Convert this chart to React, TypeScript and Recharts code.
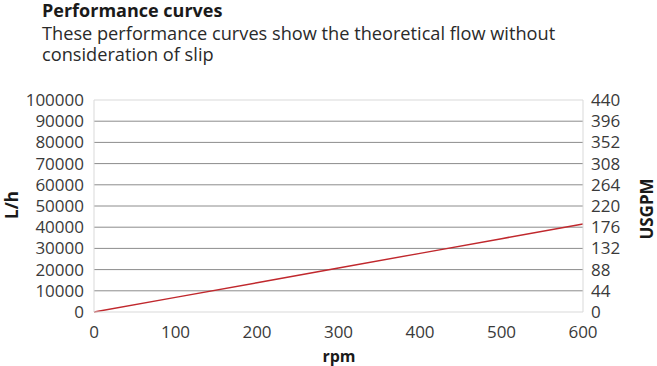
import React from "react"
import { LineChart, Line, XAxis, YAxis, ReferenceLine } from "recharts"

// rpm vs. theoretical flow (L/h)
const rpm = [0, 100, 200, 300, 400, 500, 600]
const flowLh = [0, 6900, 13800, 20750, 27650, 34600, 41500]

const rpmTicks = [0, 100, 200, 300, 400, 500, 600]
const lhTicks = [0, 10000, 20000, 30000, 40000, 50000, 60000, 70000, 80000, 90000, 100000]
const gpmTicks = [0, 44, 88, 132, 176, 220, 264, 308, 352, 396, 440]

const subtitleLines = [
  "These performance curves show the theoretical flow without",
  "consideration of slip",
]

const data = rpm.map((r, i) => ({ rpm: r, lph: flowLh[i] }))

const font = "'Open Sans', sans-serif"
const tickStyle = { fontFamily: font, fontSize: 17, fill: "#3a3a3a" }
const gridColor = "#8c8c8c"
const borderColor = "#d9d9d9"

export default function App() {
  return (
    <div style={{ position: "absolute", left: 0, top: 0, width: 657, height: 366, background: "#fff", fontFamily: font, color: "#1a1a1a" }}>
      <div style={{ position: "absolute", left: 42, top: 0, fontSize: 18, lineHeight: "21px", fontWeight: 700 }}>
        Performance curves
      </div>
      {subtitleLines.map((t, i) => (
        <div
          key={t}
          style={{ position: "absolute", left: 42, top: 24 + i * 21, fontSize: 18.2, lineHeight: "19px", color: "#2a2a2a", whiteSpace: "nowrap" }}
        >
          {t}
        </div>
      ))}

      <LineChart width={657} height={366} data={data} margin={{ top: 100, right: 0, bottom: 0, left: 0 }}>
        <XAxis
          dataKey="rpm"
          type="number"
          domain={[0, 600]}
          ticks={rpmTicks}
          tickSize={0}
          tickMargin={14}
          height={54}
          tick={tickStyle}
          axisLine={{ stroke: borderColor }}
        />
        <YAxis
          yAxisId="left"
          type="number"
          domain={[0, 100000]}
          ticks={lhTicks}
          tickSize={0}
          tickMargin={10}
          width={94}
          tick={tickStyle}
          axisLine={{ stroke: borderColor }}
          interval={0}
        />
        <YAxis
          yAxisId="right"
          type="number"
          orientation="right"
          domain={[0, 440]}
          allowDataOverflow
          ticks={gpmTicks}
          tickSize={0}
          tickMargin={8}
          width={74}
          tick={tickStyle}
          axisLine={{ stroke: borderColor }}
          interval={0}
        />
        {lhTicks.slice(1, -1).map((v) => (
          <ReferenceLine key={v} yAxisId="left" y={v} stroke={gridColor} strokeWidth={1} />
        ))}
        <ReferenceLine yAxisId="left" y={100000} stroke={borderColor} />
        <Line
          yAxisId="left"
          type="linear"
          dataKey="lph"
          stroke="#c0282d"
          strokeWidth={1.5}
          dot={false}
          isAnimationActive={false}
        />
      </LineChart>

      <div style={{ position: "absolute", left: 11, top: 205, transform: "translate(-50%, -50%) rotate(-90deg)", fontSize: 17, fontWeight: 700, whiteSpace: "nowrap" }}>
        L/h
      </div>
      <div style={{ position: "absolute", left: 646, top: 209, transform: "translate(-50%, -50%) rotate(-90deg)", fontSize: 17, fontWeight: 700, whiteSpace: "nowrap" }}>
        USGPM
      </div>
      <div style={{ position: "absolute", left: 339, top: 356, transform: "translate(-50%, -50%)", fontSize: 16, fontWeight: 700, whiteSpace: "nowrap" }}>
        rpm
      </div>
    </div>
  )
}
